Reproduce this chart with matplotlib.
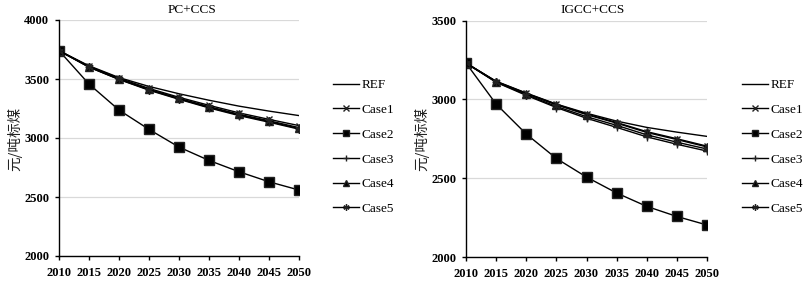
import matplotlib
matplotlib.use("Agg")
import matplotlib.pyplot as plt

years = [2010, 2015, 2020, 2025, 2030, 2035, 2040, 2045, 2050]

# PC+CCS (元/吨标煤)
pc_ref   = [3740, 3612, 3512, 3437, 3375, 3320, 3270, 3228, 3190]
pc_case1 = [3740, 3607, 3507, 3420, 3345, 3277, 3213, 3158, 3105]
pc_case2 = [3740, 3457, 3237, 3073, 2923, 2810, 2714, 2629, 2559]
pc_case3 = [3740, 3600, 3496, 3405, 3328, 3255, 3190, 3134, 3075]
pc_case4 = [3740, 3603, 3500, 3412, 3336, 3266, 3201, 3146, 3088]
pc_case5 = [3740, 3602, 3498, 3409, 3332, 3260, 3196, 3140, 3080]

# IGCC+CCS (元/吨标煤)
ig_ref   = [3230, 3115, 3040, 2970, 2912, 2862, 2822, 2792, 2765]
ig_case1 = [3230, 3113, 3038, 2968, 2907, 2853, 2795, 2750, 2703]
ig_case2 = [3230, 2970, 2780, 2625, 2507, 2406, 2321, 2257, 2203]
ig_case3 = [3230, 3108, 3025, 2948, 2880, 2822, 2762, 2715, 2672]
ig_case4 = [3230, 3112, 3036, 2965, 2903, 2849, 2790, 2745, 2698]
ig_case5 = [3230, 3110, 3030, 2955, 2890, 2835, 2775, 2728, 2685]

labels = ["REF", "Case1", "Case2", "Case3", "Case4", "Case5"]
titles = ["PC+CCS", "IGCC+CCS"]
ylabel = "元/吨标煤"

SERIF = ["Liberation Serif", "DejaVu Serif"]
CJK = ["Noto Sans CJK SC", "DejaVu Sans"]

W, H = 807, 283
fig = plt.figure(figsize=(W / 100, H / 100), dpi=100)

def fx(px):
    return px / W

def fy(py):
    return 1 - py / H

styles = [
    dict(marker=None),
    dict(marker="x", markersize=5, mew=1.0),
    dict(marker="s", markersize=6.5),
    dict(marker="+", markersize=6, mew=1.0),
    dict(marker="^", markersize=5.5),
    dict(marker=(6, 2, 0), markersize=6, mew=1.0),
]

panels = [
    dict(rect=[fx(59), fy(256), fx(299) - fx(59), fy(20) - fy(256)],
         data=[pc_ref, pc_case1, pc_case2, pc_case3, pc_case4, pc_case5],
         ylim=(2000, 4000), title_x=192, leg_x=333, ylab_x=15),
    dict(rect=[fx(466), fy(257), fx(707) - fx(466), fy(20.5) - fy(257)],
         data=[ig_ref, ig_case1, ig_case2, ig_case3, ig_case4, ig_case5],
         ylim=(2000, 3500), title_x=593, leg_x=742, ylab_x=422),
]

for p, title in zip(panels, titles):
    ax = fig.add_axes(p["rect"])
    handles = []
    for series, st, lab in zip(p["data"], styles, labels):
        h, = ax.plot(years, series, color="black", lw=1.0,
                     markerfacecolor="black", markeredgecolor="#222222",
                     label=lab, **st)
        handles.append(h)
    ax.set_xlim(2010, 2050)
    ax.set_ylim(*p["ylim"])
    ax.set_xticks(years)
    ax.set_yticks(range(p["ylim"][0], p["ylim"][1] + 1, 500))
    ax.yaxis.grid(True, color="#d9d9d9", lw=0.9)
    ax.set_axisbelow(True)
    for s in ["top", "right"]:
        ax.spines[s].set_visible(False)
    for s in ["left", "bottom"]:
        ax.spines[s].set_linewidth(1.0)
        ax.spines[s].set_color("black")
    ax.tick_params(axis="both", direction="out", length=3, width=1.0,
                   labelsize=9)
    ax.tick_params(axis="x", pad=5)
    ax.tick_params(axis="y", pad=4)
    for t in ax.get_xticklabels() + ax.get_yticklabels():
        t.set_fontfamily(SERIF)
        t.set_fontweight("bold")
    fig.text(fx(p["title_x"]), fy(10), title, ha="center", va="center",
             fontsize=9.5, family=SERIF)
    fig.text(fx(p["ylab_x"]), fy(139), ylabel, rotation=90, ha="center",
             va="center", fontsize=10.5, family=CJK, color="#222222")
    leg = fig.legend(handles=handles, labels=labels, loc="center left",
                     bbox_to_anchor=(fx(p["leg_x"]), fy(147)),
                     frameon=False, borderpad=0, borderaxespad=0,
                     handlelength=2.0, handletextpad=0.15, markerscale=0.75,
                     labelspacing=0.95, prop=dict(family=SERIF, size=9.5))

fig.savefig("out.png", dpi=100)
